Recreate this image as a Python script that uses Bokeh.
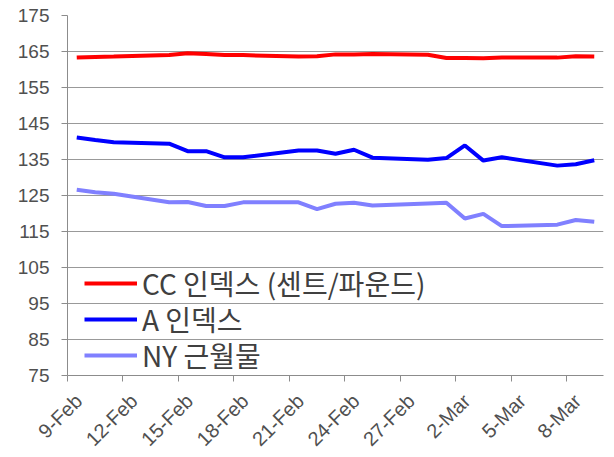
import pandas as pd
from bokeh.plotting import figure
from bokeh.models import Range1d, FixedTicker, ColumnDataSource, LinearAxis, Legend, LegendItem
from bokeh.transform import dodge
from bokeh.embed import file_html
from bokeh.resources import INLINE
from math import pi

# ---- data ----
dates = ["2011-02-09", "2011-02-10", "2011-02-11", "2011-02-14", "2011-02-15",
         "2011-02-16", "2011-02-17", "2011-02-18", "2011-02-21", "2011-02-22",
         "2011-02-23", "2011-02-24", "2011-02-25", "2011-02-28", "2011-03-01",
         "2011-03-02", "2011-03-03", "2011-03-04", "2011-03-07", "2011-03-08",
         "2011-03-09"]
cc_index = [163.3, 163.5, 163.6, 164.0, 164.5, 164.3, 164.0, 164.0, 163.6, 163.7,
            164.2, 164.2, 164.3, 164.1, 163.2, 163.2, 163.1, 163.3, 163.3, 163.7,
            163.6]
a_index = [141.1, 140.4, 139.8, 139.4, 137.3, 137.3, 135.6, 135.6, 137.5, 137.5,
           136.6, 137.7, 135.5, 134.9, 135.4, 138.9, 134.7, 135.6, 133.3, 133.7,
           134.8]
ny_nearby = [126.6, 125.9, 125.5, 123.1, 123.2, 122.1, 122.1, 123.1, 123.1, 121.2,
             122.7, 123.0, 122.2, 122.8, 123.0, 118.6, 119.9, 116.5, 116.9, 118.2,
             117.7]
series_names = ["CC 인덱스 (센트/파운드)", "A 인덱스", "NY 근월물"]
series_colors = ["#FF0000", "#0000FF", "#8080FF"]
axis_start = "2011-02-09"
axis_end = "2011-03-10"
tick_dates = ["2011-02-09", "2011-02-12", "2011-02-15", "2011-02-18", "2011-02-21",
              "2011-02-24", "2011-02-27", "2011-03-02", "2011-03-05", "2011-03-08"]
tick_labels = ["9-Feb", "12-Feb", "15-Feb", "18-Feb", "21-Feb", "24-Feb",
               "27-Feb", "2-Mar", "5-Mar", "8-Mar"]
y_min, y_max = 75, 175
y_ticks = [75, 85, 95, 105, 115, 125, 135, 145, 155, 165, 175]

# ---- build ----
t0 = pd.Timestamp(axis_start)
day = [(pd.Timestamp(d) - t0).days for d in dates]
tick_pos = [(pd.Timestamp(d) - t0).days for d in tick_dates]
x_end = (pd.Timestamp(axis_end) - t0).days

src = ColumnDataSource(dict(day=day, cc=cc_index, a=a_index, ny=ny_nearby))

FONT = "Noto Sans CJK KR"
TICK_FONT = "Liberation Sans"
LABEL_SHIFT = 0.6  # label anchor sits a little right of its tick (in days)

p = figure(frame_width=536, frame_height=360, output_backend="svg", toolbar_location=None,
           x_range=Range1d(0, x_end), y_range=Range1d(y_min, y_max),
           min_border_left=67, min_border_right=9, min_border_top=15,
           min_border_bottom=80)
p.outline_line_color = None
p.background_fill_color = "white"
p.extra_x_ranges = {"labels": Range1d(0 - LABEL_SHIFT, x_end - LABEL_SHIFT)}

x = dodge("day", 0.5)
renderers = [p.line(x=x, y=col, source=src, line_color=c, line_width=4)
             for col, c in zip(["cc", "a", "ny"], series_colors)]

# main x axis: line + tick marks only
xa = p.xaxis[0]
xa.ticker = FixedTicker(ticks=tick_pos)
xa.major_label_overrides = {t: "" for t in tick_pos}
xa.major_label_text_font_size = "0px"
xa.major_label_standoff = 0

# label axis: rotated date labels
lab_ax = LinearAxis(x_range_name="labels", ticker=FixedTicker(ticks=tick_pos),
                    major_label_overrides={t: l for t, l in zip(tick_pos, tick_labels)},
                    major_label_orientation=pi / 4, axis_line_color=None,
                    major_tick_line_color=None, minor_tick_line_color=None,
                    major_tick_out=0, major_tick_in=0, major_label_standoff=16,
                    major_label_text_font=TICK_FONT, major_label_text_font_size="20px",
                    major_label_text_color="#505050")
p.add_layout(lab_ax, "below")

p.yaxis.ticker = FixedTicker(ticks=y_ticks)
for ax in (xa, p.yaxis[0]):
    ax.axis_line_color = "#8c8c8c"
    ax.major_tick_line_color = "#8c8c8c"
    ax.major_tick_out = 6
    ax.major_tick_in = 0
    ax.minor_tick_line_color = None
p.yaxis.major_label_text_font = TICK_FONT
p.yaxis.major_label_text_font_size = "19px"
p.yaxis.major_label_text_color = "#505050"
p.yaxis.major_label_standoff = 12

p.xgrid.grid_line_color = None
p.ygrid.grid_line_color = "#999999"
p.ygrid.grid_line_width = 1

# legend: one entry per row, rows 36px apart
row_y = [72, 36, 0]
for name, r, yy in zip(series_names, renderers, row_y):
    lg = Legend(items=[LegendItem(label=name, renderers=[r])], location=(17, yy),
                padding=0, margin=0, spacing=0, glyph_width=53, glyph_height=36,
                label_height=36, label_standoff=5, label_text_font=FONT,
                label_text_font_size="28px", label_text_color="#404040",
                background_fill_alpha=0, border_line_color=None)
    p.add_layout(lg)

open("out.html", "w").write(file_html(p, INLINE))
